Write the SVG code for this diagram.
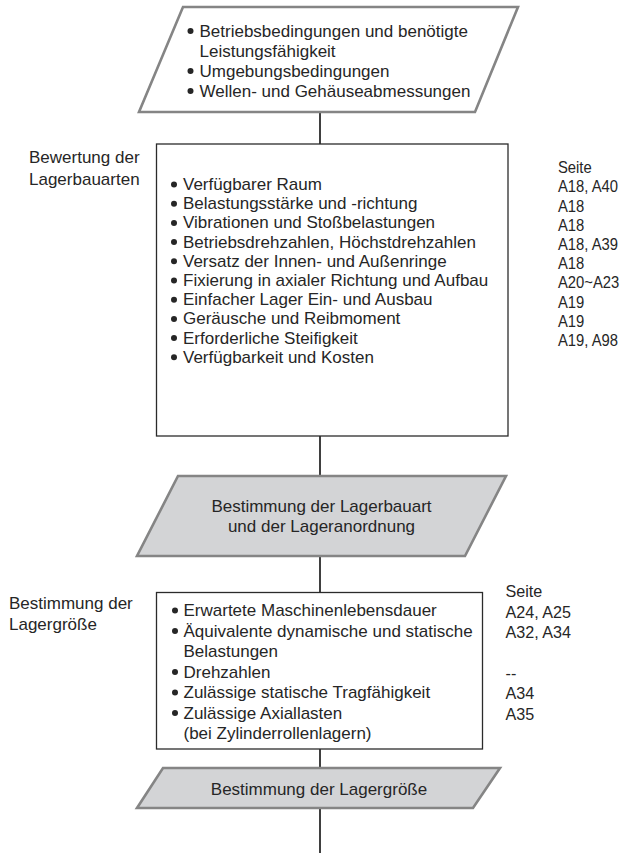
<svg xmlns="http://www.w3.org/2000/svg" width="627" height="853" viewBox="0 0 627 853">
<style>
  text { font-family: "Liberation Sans", Arial, sans-serif; font-size: 17px; fill: #262626; }
  .mid { text-anchor: middle; }
  .para { fill: #ffffff; stroke: #858585; stroke-width: 2.6; stroke-linejoin: miter; }
  .para.grey { fill: #d3d4d6; }
  .box { fill: #ffffff; stroke: #2b2b2b; stroke-width: 1.3; }
  .conn { stroke: #2b2b2b; stroke-width: 1.8; fill: none; }
  .dot { fill: #262626; }
</style>
<rect width="627" height="853" fill="#ffffff"/>

<g id="connectors">
  <line class="conn" x1="320" y1="112" x2="320" y2="144"/>
  <line class="conn" x1="320" y1="436" x2="320" y2="476"/>
  <line class="conn" x1="320" y1="556" x2="320" y2="592"/>
  <line class="conn" x1="320" y1="749" x2="320" y2="768"/>
  <line class="conn" x1="320" y1="808" x2="320" y2="853"/>
</g>

<g id="input">
  <polygon class="para" points="183,7 518,7 475,112 139,112"/>
  <circle class="dot" cx="190.5" cy="31" r="3"/>
  <text x="199.5" y="37">Betriebsbedingungen und benötigte</text>
  <text x="199.5" y="57">Leistungsfähigkeit</text>
  <circle class="dot" cx="190.5" cy="71" r="3"/>
  <text x="199.5" y="77">Umgebungsbedingungen</text>
  <circle class="dot" cx="190.5" cy="91" r="3"/>
  <text x="199.5" y="97">Wellen- und Gehäuseabmessungen</text>
</g>

<g id="label-bauarten">
  <text x="29" y="163">Bewertung der</text>
  <text x="29" y="184.5">Lagerbauarten</text>
</g>

<g id="criteria-bauarten">
  <rect class="box" x="156.5" y="144" width="351.5" height="292"/>
  <circle class="dot" cx="174" cy="184.5" r="3"/>
  <text x="183" y="190">Verfügbarer Raum</text>
  <circle class="dot" cx="174" cy="203.7" r="3"/>
  <text x="183" y="209.2">Belastungsstärke und -richtung</text>
  <circle class="dot" cx="174" cy="222.9" r="3"/>
  <text x="183" y="228.4">Vibrationen und Stoßbelastungen</text>
  <circle class="dot" cx="174" cy="242.1" r="3"/>
  <text x="183" y="247.6">Betriebsdrehzahlen, Höchstdrehzahlen</text>
  <circle class="dot" cx="174" cy="261.3" r="3"/>
  <text x="183" y="266.8">Versatz der Innen- und Außenringe</text>
  <circle class="dot" cx="174" cy="280.5" r="3"/>
  <text x="183" y="286">Fixierung in axialer Richtung und Aufbau</text>
  <circle class="dot" cx="174" cy="299.7" r="3"/>
  <text x="183" y="305.2">Einfacher Lager Ein- und Ausbau</text>
  <circle class="dot" cx="174" cy="318.9" r="3"/>
  <text x="183" y="324.4">Geräusche und Reibmoment</text>
  <circle class="dot" cx="174" cy="338.1" r="3"/>
  <text x="183" y="343.6">Erforderliche Steifigkeit</text>
  <circle class="dot" cx="174" cy="357.3" r="3"/>
  <text x="183" y="362.8">Verfügbarkeit und Kosten</text>
</g>

<g id="pages-bauarten" transform="translate(558,0) scale(0.87,1)">
  <text x="0" y="173">Seite</text>
  <text x="0" y="192.5">A18, A40</text>
  <text x="0" y="211.7">A18</text>
  <text x="0" y="230.9">A18</text>
  <text x="0" y="250.1">A18, A39</text>
  <text x="0" y="269.3">A18</text>
  <text x="0" y="288.5">A20~A23</text>
  <text x="0" y="307.7">A19</text>
  <text x="0" y="326.9">A19</text>
  <text x="0" y="346.1">A19, A98</text>
</g>

<g id="result-bauart">
  <polygon class="para grey" points="178,476 506,476 465,556 137,556"/>
  <text class="mid" x="321.5" y="511.7">Bestimmung der Lagerbauart</text>
  <text class="mid" x="321.5" y="531.7">und der Lageranordnung</text>
</g>

<g id="label-groesse">
  <text x="9" y="608.5">Bestimmung der</text>
  <text x="9" y="630">Lagergröße</text>
</g>

<g id="criteria-groesse">
  <rect class="box" x="156.5" y="592.5" width="326" height="156.5"/>
  <circle class="dot" cx="175" cy="610.5" r="3"/>
  <text x="183.5" y="616">Erwartete Maschinenlebensdauer</text>
  <circle class="dot" cx="175" cy="631" r="3"/>
  <text x="183.5" y="636.5">Äquivalente dynamische und statische</text>
  <text x="183.5" y="657">Belastungen</text>
  <circle class="dot" cx="175" cy="672" r="3"/>
  <text x="183.5" y="677.5">Drehzahlen</text>
  <circle class="dot" cx="175" cy="692.5" r="3"/>
  <text x="183.5" y="698">Zulässige statische Tragfähigkeit</text>
  <circle class="dot" cx="175" cy="713" r="3"/>
  <text x="183.5" y="718.5">Zulässige Axiallasten</text>
  <text x="183.5" y="739">(bei Zylinderrollenlagern)</text>
</g>

<g id="pages-groesse" transform="translate(505.5,0) scale(0.95,1)">
  <text x="0" y="597">Seite</text>
  <text x="0" y="618">A24, A25</text>
  <text x="0" y="638.5">A32, A34</text>
  <text x="0" y="679.5">--</text>
  <text x="0" y="699.5">A34</text>
  <text x="0" y="720">A35</text>
</g>

<g id="result-groesse">
  <polygon class="para grey" points="163,768 500,768 473,808 137,808"/>
  <text class="mid" x="319" y="795">Bestimmung der Lagergröße</text>
</g>
</svg>
